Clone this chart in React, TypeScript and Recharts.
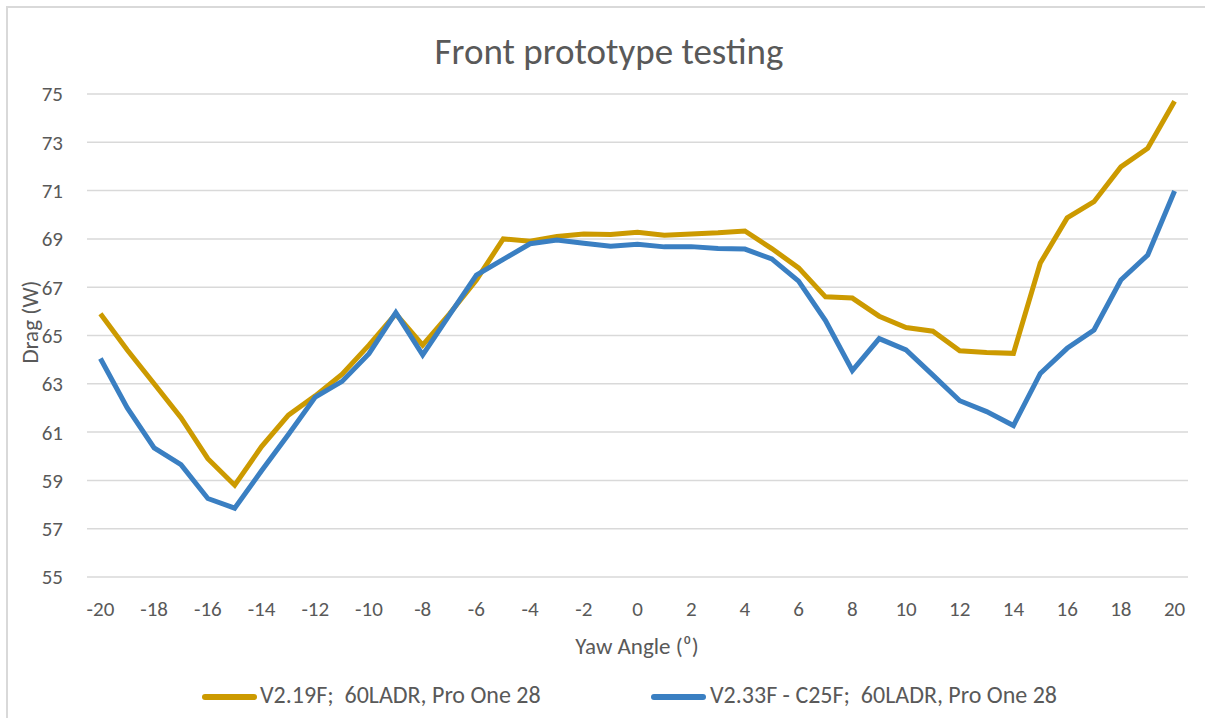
import React from "react";
import { LineChart, CartesianGrid, XAxis, YAxis, Legend, Line } from "recharts";

const angles = [
  -20, -19, -18, -17, -16, -15, -14, -13, -12, -11, -10, -9, -8, -7, -6, -5, -4, -3, -2, -1, 0,
  1, 2, 3, 4, 5, 6, 7, 8, 9, 10, 11, 12, 13, 14, 15, 16, 17, 18, 19, 20,
];

// V2.19F; 60LADR, Pro One 28
const v219 = [
  65.9, 64.4, 63.0, 61.6, 59.9, 58.8, 60.4, 61.7, 62.5, 63.4, 64.6, 65.9, 64.6, 65.9, 67.3,
  69.0, 68.9, 69.1, 69.2, 69.18, 69.27, 69.15, 69.2, 69.25, 69.33, 68.6, 67.8, 66.6, 66.55,
  65.8, 65.33, 65.18, 64.37, 64.3, 64.26, 68.0, 69.87, 70.54, 71.98, 72.75, 74.7,
];

// V2.33F - C25F; 60LADR, Pro One 28
const v233 = [
  64.05, 62.0, 60.35, 59.65, 58.25, 57.85, 59.4, 60.9, 62.45, 63.1, 64.25, 65.95, 64.2, 65.85,
  67.5, 68.15, 68.8, 68.95, 68.82, 68.7, 68.78, 68.67, 68.68, 68.6, 68.58, 68.17, 67.25, 65.62,
  63.55, 64.87, 64.4, 63.36, 62.3, 61.85, 61.27, 63.43, 64.47, 65.23, 67.3, 68.33, 70.98,
];

const xTicks = [-20, -18, -16, -14, -12, -10, -8, -6, -4, -2, 0, 2, 4, 6, 8, 10, 12, 14, 16, 18, 20];
const yTicks = [55, 57, 59, 61, 63, 65, 67, 69, 71, 73, 75];

const FONT = "Carlito, Calibri, Lato, sans-serif";
const TEXT = "#595959";
const GOLD = "#CC9A00";
const BLUE = "#3A7FC2";

const data = angles.map((a, i) => ({ angle: a, v219: v219[i], v233: v233[i] }));

const LegendBox = () => (
  <div style={{ position: "relative", height: 61, fontFamily: FONT, fontSize: 24, color: TEXT }}>
    <div style={{ position: "absolute", left: 202, top: 37, width: 55, height: 6, borderRadius: 3, background: GOLD }} />
    <div style={{ position: "absolute", left: 260, top: 23, whiteSpace: "pre" }}>V2.19F;  60LADR, Pro One 28</div>
    <div style={{ position: "absolute", left: 651, top: 37, width: 55, height: 6, borderRadius: 3, background: BLUE }} />
    <div style={{ position: "absolute", left: 710, top: 23, whiteSpace: "pre" }}>V2.33F - C25F;  60LADR, Pro One 28</div>
  </div>
);

export default function App() {
  return (
    <div style={{ position: "absolute", left: 0, top: 0, width: 1205, height: 718, overflow: "hidden", background: "#fff" }}>
      <div
        style={{
          position: "absolute",
          left: 6,
          top: 6,
          width: 1300,
          height: 800,
          borderLeft: "2px solid #D9D9D9",
          borderTop: "2px solid #D9D9D9",
        }}
      />
      <svg style={{ position: "absolute", left: 0, top: 0 }} width={1205} height={90}>
        <text x={609} y={64} textAnchor="middle" fontFamily={FONT} fontSize={37} fill={TEXT}>
          Front prototype testing
        </text>
      </svg>
      <div style={{ position: "absolute", left: 0, top: 0 }}>
        <LineChart width={1205} height={718} data={data} margin={{ top: 94, right: 17, left: 0, bottom: 0 }}>
          <CartesianGrid vertical={false} stroke="#D9D9D9" strokeWidth={1.5} />
          <XAxis
            dataKey="angle"
            type="number"
            domain={[-20.5, 20.5]}
            ticks={xTicks}
            interval={0}
            axisLine={false}
            tickLine={false}
            tickSize={0}
            tickMargin={24}
            height={80}
            tick={{ fill: TEXT, fontSize: 21, fontFamily: FONT }}
            label={{
              content: () => (
                <text x={637} y={654} textAnchor="middle" fontFamily={FONT} fontSize={23} fill={TEXT}>
                  Yaw Angle (⁰)
                </text>
              ),
            }}
          />
          <YAxis
            domain={[55, 75]}
            ticks={yTicks}
            interval={0}
            width={87}
            axisLine={false}
            tickLine={false}
            tickSize={0}
            tickMargin={24}
            tick={{ fill: TEXT, fontSize: 21, fontFamily: FONT }}
            label={{
              content: () => (
                <text
                  x={38}
                  y={322}
                  transform="rotate(-90 38 322)"
                  textAnchor="middle"
                  fontFamily={FONT}
                  fontSize={23}
                  fill={TEXT}
                >
                  Drag (W)
                </text>
              ),
            }}
          />
          <Legend verticalAlign="bottom" content={() => <LegendBox />} />
          <Line type="linear" dataKey="v219" stroke={GOLD} strokeWidth={5} dot={false} isAnimationActive={false} />
          <Line type="linear" dataKey="v233" stroke={BLUE} strokeWidth={5} dot={false} isAnimationActive={false} />
        </LineChart>
      </div>
    </div>
  );
}
